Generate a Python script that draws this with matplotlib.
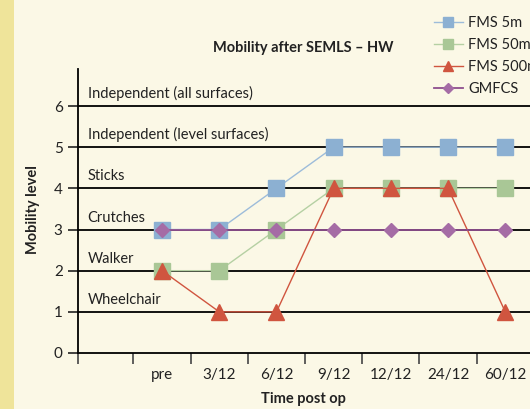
import matplotlib
matplotlib.use("Agg")
import matplotlib.pyplot as plt
from matplotlib.patches import Rectangle

categories = ["pre", "3/12", "6/12", "9/12", "12/12", "24/12", "60/12"]
fms5 = [3, 3, 4, 5, 5, 5, 5]
fms50 = [2, 2, 3, 4, 4, 4, 4]
fms500 = [2, 1, 1, 4, 4, 4, 1]
gmfcs = [3, 3, 3, 3, 3, 3, 3]
level_labels = ["Wheelchair", "Walker", "Crutches", "Sticks",
                "Independent (level surfaces)", "Independent (all surfaces)"]
level_values = [1, 2, 3, 4, 5, 6]
series_names = ["FMS 5m", "FMS 50m", "FMS 500m", "GMFCS"]

plt.rcParams['font.family'] = ['Lato', 'DejaVu Sans']

W, H = 530, 409
fig = plt.figure(figsize=(W / 100, H / 100), dpi=100)
bg = "#FBF8E6"
fig.patch.set_facecolor(bg)
fig.patches.append(Rectangle((0, 0), 14 / W, 1, transform=fig.transFigure,
                             facecolor="#EFE49A", edgecolor="none", zorder=0))

ax_left = 78 / W
ax_bottom = (H - 353) / H
unit_y = (353 - 106) / 6
unit_x = 57.2
xmin, xmax = -1.47, 6.6
ymax = 6.9
ax = fig.add_axes([ax_left, ax_bottom, (xmax - xmin) * unit_x / W, ymax * unit_y / H])
ax.set_facecolor(bg)
ax.set_xlim(xmin, xmax)
ax.set_ylim(0, ymax)

for v in level_values:
    ax.axhline(v, color="black", lw=1.3, zorder=1)
for v, lab in zip(level_values, level_labels):
    ax.text(-1.3, v + 0.12, lab, fontsize=10.5, color="#222222", va="bottom", ha="left")

x = list(range(len(categories)))
ax.plot(x, fms5, color="#9DBCDA", lw=1, marker="s", ms=11.5, mfc="#8CB0D2", mec="#8CB0D2", zorder=3, label=series_names[0])
ax.plot(x, fms50, color="#B5D0A3", lw=1, marker="s", ms=11.5, mfc="#A9C796", mec="#A9C796", zorder=4, label=series_names[1])
ax.plot(x, fms500, color="#D0553F", lw=1, marker="^", ms=11, mfc="#D0553F", mec="#D0553F", zorder=5, label=series_names[2])
ax.plot(x, gmfcs, color="#8E4F8E", lw=1.3, marker="D", ms=7.5, mfc="#A56CA5", mec="#A56CA5", zorder=6, label=series_names[3])

for s in ["top", "right"]:
    ax.spines[s].set_visible(False)
ax.spines["left"].set_linewidth(1.3)
ax.spines["bottom"].set_linewidth(1.3)

ax.set_yticks(range(0, 7))
ax.tick_params(axis="y", direction="out", length=7, width=1.2, labelsize=11, pad=4, colors="#222222")
ax.set_xticks([xmin] + [i + 0.5 for i in range(-1, 7)])
ax.set_xticklabels([])
ax.tick_params(axis="x", which="major", direction="out", length=8, width=1.2, color="#444444")
ax.set_xticks(x, minor=True)
ax.set_xticklabels(categories, minor=True)
ax.tick_params(axis="x", which="minor", length=0, labelsize=11, pad=11, colors="#222222")

fig.text(303 / W, 1 - 48 / H, "Mobility after SEMLS \u2013 HW", fontsize=10.5, fontweight="bold",
         ha="center", va="center", color="#222222")
fig.text(33 / W, 1 - 210 / H, "Mobility level", fontsize=10.5, fontweight="bold",
         ha="center", va="center", rotation=90, color="#222222")
fig.text(303 / W, 1 - 399 / H, "Time post op", fontsize=10.5, fontweight="bold",
         ha="center", va="center", color="#222222")

leg = fig.legend(loc="upper left", bbox_to_anchor=(428 / W, 1 - 10 / H), frameon=False,
                 fontsize=10.5, handlelength=2.0, markerscale=0.65, labelspacing=0.55,
                 handletextpad=0.35, borderaxespad=0)
for t in leg.get_texts():
    t.set_color("#222222")

fig.savefig("out.png", dpi=100, facecolor=bg)
